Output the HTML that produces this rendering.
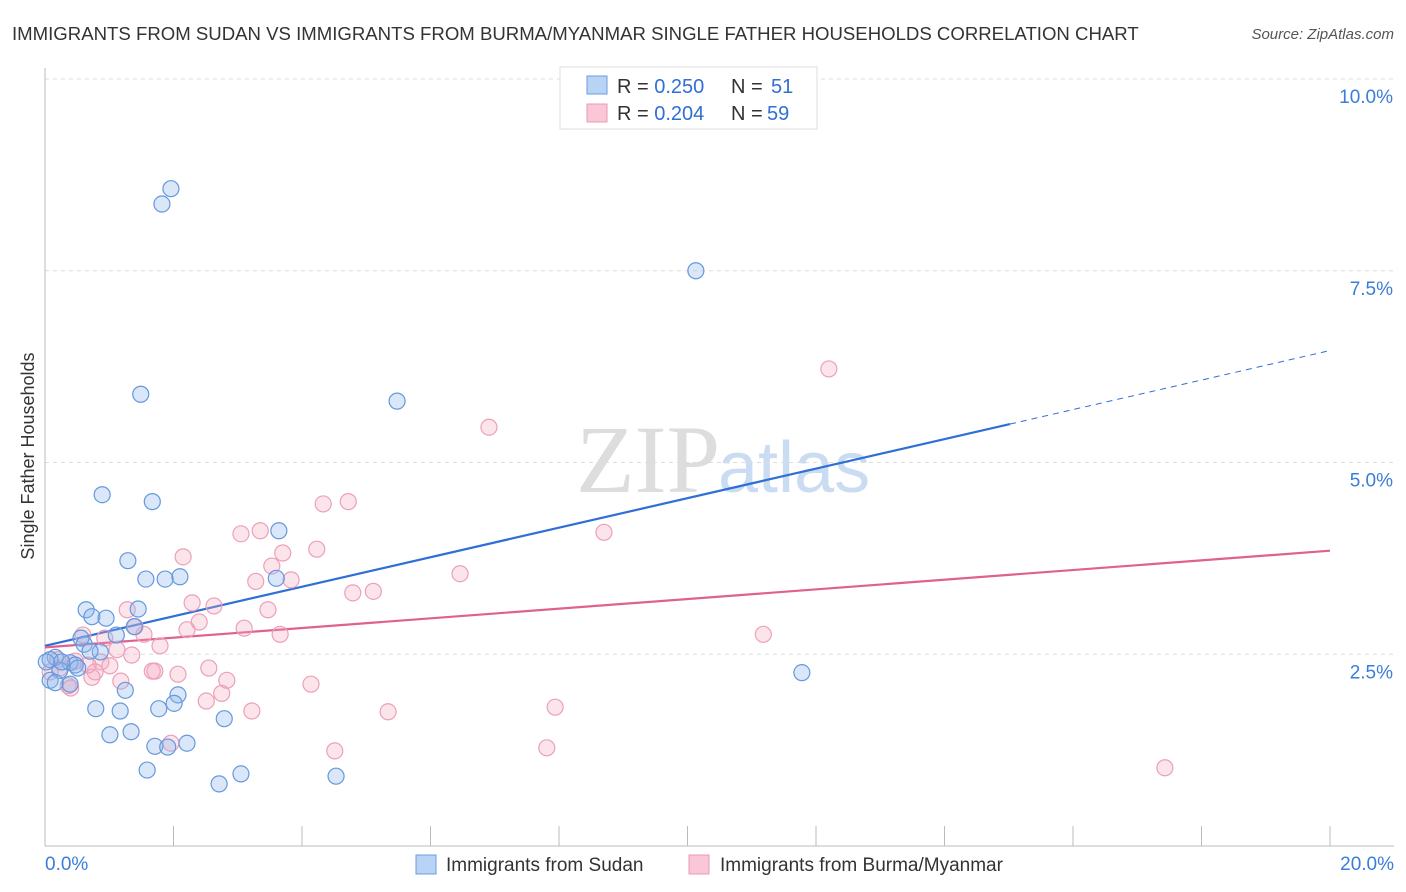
<!DOCTYPE html>
<html><head><meta charset="utf-8"><style>
body{margin:0;background:#fff;font-family:"Liberation Sans",sans-serif;}
svg{display:block}
</style></head><body>
<svg id="chart" width="1406" height="892">
<text x="12" y="40" font-size="18.6" fill="#333">IMMIGRANTS FROM SUDAN VS IMMIGRANTS FROM BURMA/MYANMAR SINGLE FATHER HOUSEHOLDS CORRELATION CHART</text>
<text x="1394" y="39" font-size="15" font-style="italic" fill="#555" text-anchor="end">Source: ZipAtlas.com</text>
<text x="720" y="492" font-size="96" font-family="Liberation Serif,serif" fill="#ddd" text-anchor="end">ZIP</text>
<text x="718" y="492" font-size="72" fill="#c9dcf2">atlas</text>
<text transform="translate(34,456) rotate(-90)" font-size="18" fill="#333" text-anchor="middle">Single Father Households</text>
<g id="grid"></g><g id="axes"></g><g id="lines"></g><g id="pts"></g>
<g>
<rect x="560" y="67" width="257" height="62" fill="#fff" stroke="#ddd"/>
<rect x="587" y="76" width="20" height="18" fill="#b9d3f5" stroke="#6b9be0"/>
<rect x="587" y="104" width="20" height="18" fill="#f9c7d6" stroke="#e99ab4"/>
<text x="617" y="93" font-size="20" fill="#333">R = <tspan fill="#2f6fd6">0.250</tspan><tspan x="731">N = </tspan><tspan x="771" fill="#2f6fd6">51</tspan></text>
<text x="617" y="120" font-size="20" fill="#333">R = <tspan fill="#2f6fd6">0.204</tspan><tspan x="731">N = </tspan><tspan x="767" fill="#2f6fd6">59</tspan></text>
</g>
<g>
<rect x="416" y="855" width="20" height="19" fill="#b9d3f5" stroke="#6b9be0"/>
<text x="446" y="871" font-size="19" fill="#333">Immigrants from Sudan</text>
<rect x="689" y="855" width="20" height="19" fill="#f9c7d6" stroke="#e99ab4"/>
<text x="720" y="871" font-size="19" fill="#333">Immigrants from Burma/Myanmar</text>
</g>
</svg>
<script>
const blueX=[1.96,1.82,10.13,1.49,5.48,0.89,1.67,3.64,1.29,1.57,1.87,2.10,3.60,0.64,1.45,0.73,0.95,1.11,1.39,0.56,0.61,0.86,0.70,0.16,0.39,0.23,0.47,0.08,0.16,0.39,1.25,2.07,0.79,1.17,1.77,2.01,2.79,1.01,1.34,1.71,1.91,2.21,11.78,1.59,3.05,2.71,4.53,0.08,0.26,0.02,0.51];
const blueY=[8.57,8.37,7.50,5.89,5.80,4.58,4.49,4.11,3.72,3.48,3.48,3.51,3.49,3.08,3.09,2.99,2.97,2.75,2.86,2.71,2.63,2.53,2.54,2.46,2.39,2.29,2.36,2.16,2.13,2.11,2.03,1.97,1.79,1.76,1.79,1.86,1.66,1.45,1.49,1.30,1.29,1.34,2.26,0.99,0.94,0.81,0.91,2.43,2.40,2.40,2.32];
const pinkX=[12.20,6.91,4.72,4.33,8.70,3.05,3.35,2.15,4.23,3.70,3.53,6.46,3.28,3.83,5.11,4.79,2.29,2.63,1.28,3.47,1.40,2.40,1.54,2.21,3.10,3.66,11.18,0.59,1.79,1.12,0.87,0.47,1.35,1.01,1.71,1.67,0.78,2.07,2.55,2.83,1.18,0.73,0.36,2.75,0.40,2.51,3.22,4.14,5.34,7.94,4.51,1.96,7.81,17.43,0.23,0.20,0.67,0.93,0.08];
const pinkY=[6.22,5.46,4.49,4.46,4.09,4.07,4.11,3.77,3.87,3.82,3.65,3.55,3.45,3.47,3.32,3.30,3.17,3.13,3.08,3.08,2.86,2.92,2.76,2.82,2.84,2.76,2.76,2.75,2.61,2.56,2.40,2.41,2.49,2.35,2.28,2.28,2.27,2.24,2.32,2.16,2.15,2.20,2.09,1.99,2.06,1.89,1.76,2.11,1.75,1.81,1.24,1.34,1.28,1.02,2.32,2.43,2.36,2.71,2.27];
const yTicks=[2.5,5.0,7.5,10.0];
const xTickVals=[0,2,4,6,8,10,12,14,16,18,20];
const blueTrend=[2.61,6.46]; const blueSolidEnd=15.02;
const pinkTrend=[2.59,3.85];
const NS="http://www.w3.org/2000/svg";
const sx=v=>45+v*64.25, sy=v=>846-v*76.7;
function mk(parent,tag,attrs){const e=document.createElementNS(NS,tag);for(const k in attrs)e.setAttribute(k,attrs[k]);document.getElementById(parent).appendChild(e);return e;}
yTicks.forEach(t=>{
 const l=mk('grid','line',{x1:45,x2:1394,y1:sy(t),y2:sy(t),stroke:'#ddd','stroke-dasharray':'4,4'});
 
 
 const tx=mk('grid','text',{x:1393,y:sy(t)+24,'font-size':19,fill:'#3b7dd8','text-anchor':'end'});
 tx.textContent=t.toFixed(1)+'%';
 
 
});
let a=mk('axes','line',{x1:45,x2:1394,y1:846,y2:846,stroke:'#bbb'});


a=mk('axes','line',{x1:45,x2:45,y1:68,y2:846,stroke:'#bbb'});


xTickVals.forEach(t=>{
 const l=mk('axes','line',{x1:sx(t),x2:sx(t),y1:826,y2:846,stroke:'#bbb'});
 
 
});
[[0,'start',45],[20,'end',1394]].forEach(([v,anc,x])=>{
 const tx=mk('axes','text',{x:x,y:870,'font-size':19,fill:'#3b7dd8','text-anchor':anc});
 tx.textContent=v.toFixed(1)+'%';
 
 
});
const bAt=x=>blueTrend[0]+(blueTrend[1]-blueTrend[0])*x/20;
let tl=mk('lines','line',{x1:sx(0),y1:sy(bAt(0)),x2:sx(blueSolidEnd),y2:sy(bAt(blueSolidEnd)),stroke:'#2f6fd6','stroke-width':2.2});


tl=mk('lines','line',{x1:sx(blueSolidEnd),y1:sy(bAt(blueSolidEnd)),x2:sx(20),y2:sy(bAt(20)),stroke:'#2f6fd6','stroke-width':1,'stroke-dasharray':'6,5'});


tl=mk('lines','line',{x1:sx(0),y1:sy(pinkTrend[0]),x2:sx(20),y2:sy(pinkTrend[1]),stroke:'#e0608f','stroke-width':2.2});


pinkX.forEach((x,i)=>{
 const c=mk('pts','circle',{cx:sx(x),cy:sy(pinkY[i]),r:8,fill:'rgba(244,165,190,0.3)',stroke:'#eca0b9','stroke-width':1.2});
 
 
});
blueX.forEach((x,i)=>{
 const c=mk('pts','circle',{cx:sx(x),cy:sy(blueY[i]),r:8,fill:'rgba(140,182,238,0.33)',stroke:'#6598de','stroke-width':1.2});
 
 
});
</script>
</body></html>
